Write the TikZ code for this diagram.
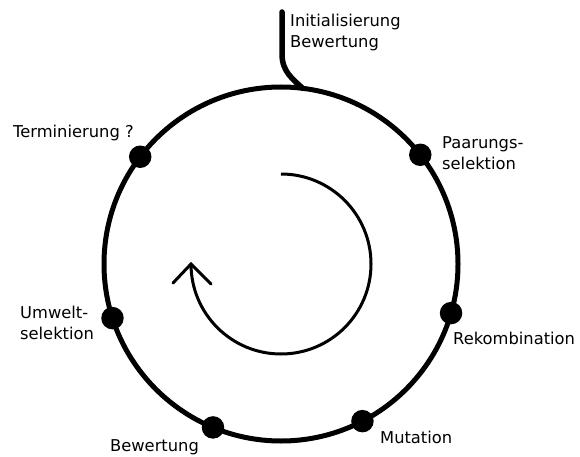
\documentclass[tikz,border=0pt]{standalone}
\usepackage{fontspec}
\setmainfont{DejaVu Sans}
\begin{document}
\begin{tikzpicture}[x=1pt,y=1pt,
  ring/.style={line width=5pt},
  feed/.style={line width=5.5pt,line cap=round},
  dot/.style={circle,fill=black,inner sep=0pt,minimum size=22.5pt},
  lbl/.style={anchor=base west,inner sep=0pt,align=left,font=\fontsize{16.3}{21}\selectfont},
  spin/.style={line width=3pt}]
\useasboundingbox (0,0) rectangle (580,456);
\coordinate (c) at (281,192);
\draw[ring] (c) circle[radius=177];
% feed-in line
\coordinate (top) at (282,444);
\coordinate (bend) at (282,402);
\path (c) ++(83:177) coordinate (join);
\draw[feed] (top) -- (bend) .. controls (282,384) and (293,377) .. (join);
% dots
\path (c) ++(142.7:177) node[dot] (dterm) {};
\path (c) ++(38.1:177) node[dot] (dpaar) {};
\path (c) ++(-16.1:177) node[dot] (dreko) {};
\path (c) ++(-62.6:177) node[dot] (dmut) {};
\path (c) ++(-112.6:177) node[dot] (dbew) {};
\path (c) ++(197.8:177) node[dot] (dumw) {};
% inner arrow
\path (c) ++(90:90) coordinate (s);
\draw[spin] (s) arc[start angle=90,end angle=-180,radius=90] coordinate (tip);
\draw[spin,line join=miter,line cap=round] (tip) ++(-18,-19) coordinate (armA) -- (tip) -- ++(20,-20) coordinate (armB);
% labels (multi-line nodes: base is the last line)
\node[lbl] (linit) at (290,408) {Initialisierung\\Bewertung};
\node[lbl] (lpaar) at (442,287) {Paarungs-\\selektion};
\node[lbl] (lreko) at (453,112) {Rekombination};
\node[lbl] (lterm) at (13,319) {Terminierung ?};
\node[lbl] (lumw) at (20,117) {Umwelt-\\selektion};
\node[lbl] (lbew) at (110,5) {Bewertung};
\node[lbl] (lmut) at (380,13) {Mutation};
\end{tikzpicture}
\end{document}
